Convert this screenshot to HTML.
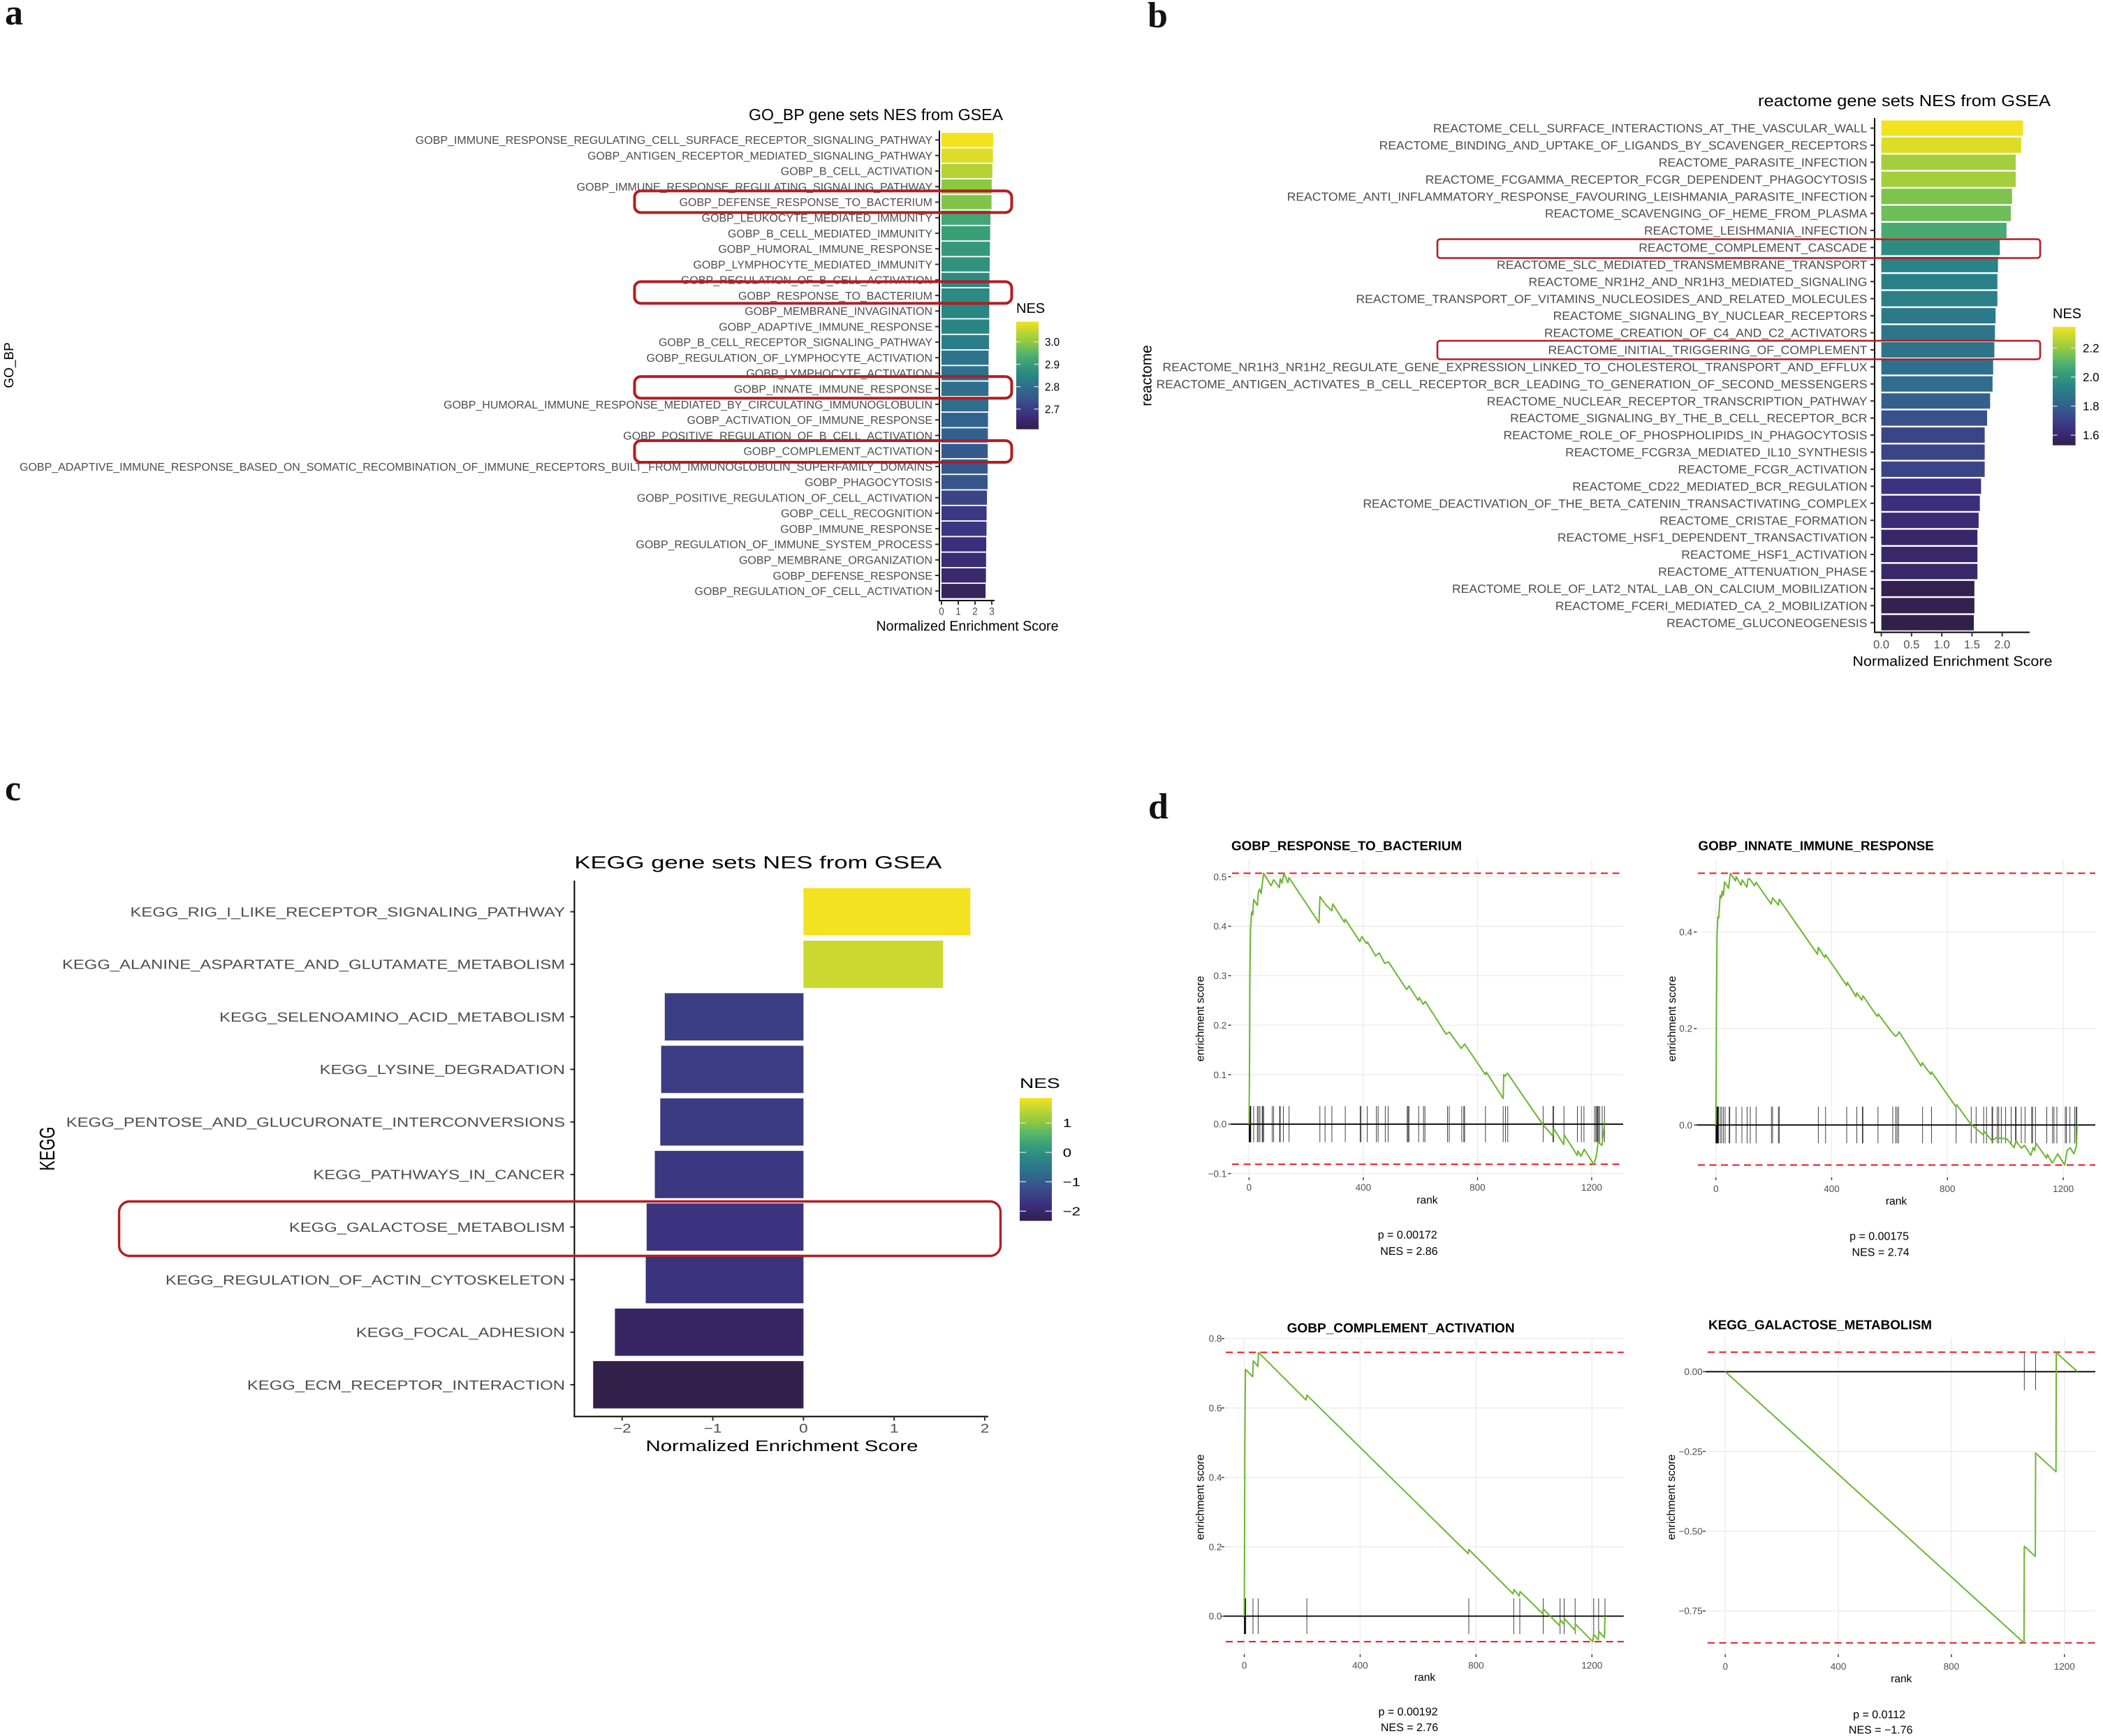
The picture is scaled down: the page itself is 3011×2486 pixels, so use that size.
<!DOCTYPE html>
<html lang="en">
<head>
<meta charset="utf-8">
<title>GSEA NES figure</title>
<style>
html,body{margin:0;padding:0;background:#fff;}
svg{display:block;}
text{font-family:"Liberation Sans",sans-serif;text-rendering:geometricPrecision;}
.letter{font-family:"Liberation Serif",serif;font-weight:bold;font-size:52px;fill:#111;}
.box{fill:none;stroke:#b11e22;}
</style>
</head>
<body>
<svg id="figure" xmlns="http://www.w3.org/2000/svg" width="3011" height="2486" viewBox="0 0 3011 2486">
  <defs id="defs"></defs>
  <rect x="0" y="0" width="3011" height="2486" fill="#fff"/>
  <g id="panel-a"></g>
  <g id="panel-b"></g>
  <g id="panel-c"></g>
  <g id="panel-d1"></g>
  <g id="panel-d2"></g>
  <g id="panel-d3"></g>
  <g id="panel-d4"></g>
  <g>
    <rect class="box" x="908.5" y="273.4" width="540" height="31" rx="9" stroke-width="4"/>
    <rect class="box" x="908.5" y="403.4" width="540" height="31" rx="9" stroke-width="4"/>
    <rect class="box" x="908.5" y="539.2" width="540" height="31" rx="9" stroke-width="4"/>
    <rect class="box" x="908.5" y="631" width="540" height="31" rx="9" stroke-width="4"/>
    <rect class="box" x="2058" y="342.5" width="863" height="27" rx="4" stroke-width="2.6"/>
    <rect class="box" x="2058" y="488" width="863" height="26.5" rx="4" stroke-width="2.6"/>
    <rect class="box" x="170.5" y="1720.5" width="1262" height="78" rx="15" stroke-width="3.4"/>
  </g>
  <text class="letter" x="7" y="35">a</text>
  <text class="letter" x="1643" y="39">b</text>
  <text class="letter" x="7" y="1146">c</text>
  <text class="letter" x="1644" y="1172">d</text>
</svg>
<script>
/* ---------- Panel a data ---------- */
const aCategories = [
"GOBP_IMMUNE_RESPONSE_REGULATING_CELL_SURFACE_RECEPTOR_SIGNALING_PATHWAY",
"GOBP_ANTIGEN_RECEPTOR_MEDIATED_SIGNALING_PATHWAY",
"GOBP_B_CELL_ACTIVATION",
"GOBP_IMMUNE_RESPONSE_REGULATING_SIGNALING_PATHWAY",
"GOBP_DEFENSE_RESPONSE_TO_BACTERIUM",
"GOBP_LEUKOCYTE_MEDIATED_IMMUNITY",
"GOBP_B_CELL_MEDIATED_IMMUNITY",
"GOBP_HUMORAL_IMMUNE_RESPONSE",
"GOBP_LYMPHOCYTE_MEDIATED_IMMUNITY",
"GOBP_REGULATION_OF_B_CELL_ACTIVATION",
"GOBP_RESPONSE_TO_BACTERIUM",
"GOBP_MEMBRANE_INVAGINATION",
"GOBP_ADAPTIVE_IMMUNE_RESPONSE",
"GOBP_B_CELL_RECEPTOR_SIGNALING_PATHWAY",
"GOBP_REGULATION_OF_LYMPHOCYTE_ACTIVATION",
"GOBP_LYMPHOCYTE_ACTIVATION",
"GOBP_INNATE_IMMUNE_RESPONSE",
"GOBP_HUMORAL_IMMUNE_RESPONSE_MEDIATED_BY_CIRCULATING_IMMUNOGLOBULIN",
"GOBP_ACTIVATION_OF_IMMUNE_RESPONSE",
"GOBP_POSITIVE_REGULATION_OF_B_CELL_ACTIVATION",
"GOBP_COMPLEMENT_ACTIVATION",
"GOBP_ADAPTIVE_IMMUNE_RESPONSE_BASED_ON_SOMATIC_RECOMBINATION_OF_IMMUNE_RECEPTORS_BUILT_FROM_IMMUNOGLOBULIN_SUPERFAMILY_DOMAINS",
"GOBP_PHAGOCYTOSIS",
"GOBP_POSITIVE_REGULATION_OF_CELL_ACTIVATION",
"GOBP_CELL_RECOGNITION",
"GOBP_IMMUNE_RESPONSE",
"GOBP_REGULATION_OF_IMMUNE_SYSTEM_PROCESS",
"GOBP_MEMBRANE_ORGANIZATION",
"GOBP_DEFENSE_RESPONSE",
"GOBP_REGULATION_OF_CELL_ACTIVATION"];
const aValues = [3.09,3.07,3.035,2.995,2.985,2.92,2.905,2.89,2.875,2.86,2.86,2.85,2.85,2.835,2.81,2.805,2.80,2.795,2.775,2.77,2.76,2.755,2.75,2.715,2.69,2.685,2.67,2.66,2.65,2.63];
const aXTicks = [0,1,2,3];
const aXTickLabels = ["0","1","2","3"];
const aLegendTicks = [3.0,2.9,2.8,2.7];
const aLegendLabels = ["3.0","2.9","2.8","2.7"];

/* ---------- Panel b data ---------- */
const bCategories = [
"REACTOME_CELL_SURFACE_INTERACTIONS_AT_THE_VASCULAR_WALL",
"REACTOME_BINDING_AND_UPTAKE_OF_LIGANDS_BY_SCAVENGER_RECEPTORS",
"REACTOME_PARASITE_INFECTION",
"REACTOME_FCGAMMA_RECEPTOR_FCGR_DEPENDENT_PHAGOCYTOSIS",
"REACTOME_ANTI_INFLAMMATORY_RESPONSE_FAVOURING_LEISHMANIA_PARASITE_INFECTION",
"REACTOME_SCAVENGING_OF_HEME_FROM_PLASMA",
"REACTOME_LEISHMANIA_INFECTION",
"REACTOME_COMPLEMENT_CASCADE",
"REACTOME_SLC_MEDIATED_TRANSMEMBRANE_TRANSPORT",
"REACTOME_NR1H2_AND_NR1H3_MEDIATED_SIGNALING",
"REACTOME_TRANSPORT_OF_VITAMINS_NUCLEOSIDES_AND_RELATED_MOLECULES",
"REACTOME_SIGNALING_BY_NUCLEAR_RECEPTORS",
"REACTOME_CREATION_OF_C4_AND_C2_ACTIVATORS",
"REACTOME_INITIAL_TRIGGERING_OF_COMPLEMENT",
"REACTOME_NR1H3_NR1H2_REGULATE_GENE_EXPRESSION_LINKED_TO_CHOLESTEROL_TRANSPORT_AND_EFFLUX",
"REACTOME_ANTIGEN_ACTIVATES_B_CELL_RECEPTOR_BCR_LEADING_TO_GENERATION_OF_SECOND_MESSENGERS",
"REACTOME_NUCLEAR_RECEPTOR_TRANSCRIPTION_PATHWAY",
"REACTOME_SIGNALING_BY_THE_B_CELL_RECEPTOR_BCR",
"REACTOME_ROLE_OF_PHOSPHOLIPIDS_IN_PHAGOCYTOSIS",
"REACTOME_FCGR3A_MEDIATED_IL10_SYNTHESIS",
"REACTOME_FCGR_ACTIVATION",
"REACTOME_CD22_MEDIATED_BCR_REGULATION",
"REACTOME_DEACTIVATION_OF_THE_BETA_CATENIN_TRANSACTIVATING_COMPLEX",
"REACTOME_CRISTAE_FORMATION",
"REACTOME_HSF1_DEPENDENT_TRANSACTIVATION",
"REACTOME_HSF1_ACTIVATION",
"REACTOME_ATTENUATION_PHASE",
"REACTOME_ROLE_OF_LAT2_NTAL_LAB_ON_CALCIUM_MOBILIZATION",
"REACTOME_FCERI_MEDIATED_CA_2_MOBILIZATION",
"REACTOME_GLUCONEOGENESIS"];
const bValues = [2.344,2.314,2.223,2.223,2.162,2.142,2.071,1.96,1.93,1.92,1.92,1.89,1.88,1.87,1.85,1.84,1.80,1.75,1.71,1.71,1.71,1.65,1.63,1.61,1.59,1.59,1.59,1.54,1.54,1.53];
const bXTicks = [0,0.5,1,1.5,2];
const bXTickLabels = ["0.0","0.5","1.0","1.5","2.0"];
const bLegendTicks = [2.2,2.0,1.8,1.6];
const bLegendLabels = ["2.2","2.0","1.8","1.6"];

/* ---------- Panel c data ---------- */
const cCategories = [
"KEGG_RIG_I_LIKE_RECEPTOR_SIGNALING_PATHWAY",
"KEGG_ALANINE_ASPARTATE_AND_GLUTAMATE_METABOLISM",
"KEGG_SELENOAMINO_ACID_METABOLISM",
"KEGG_LYSINE_DEGRADATION",
"KEGG_PENTOSE_AND_GLUCURONATE_INTERCONVERSIONS",
"KEGG_PATHWAYS_IN_CANCER",
"KEGG_GALACTOSE_METABOLISM",
"KEGG_REGULATION_OF_ACTIN_CYTOSKELETON",
"KEGG_FOCAL_ADHESION",
"KEGG_ECM_RECEPTOR_INTERACTION"];
const cValues = [1.84,1.54,-1.53,-1.57,-1.58,-1.64,-1.73,-1.74,-2.08,-2.32];
const cXTicks = [-2,-1,0,1,2];
const cXTickLabels = ["\u22122","\u22121","0","1","2"];
const cLegendTicks = [1,0,-1,-2];
const cLegendLabels = ["1","0","\u22121","\u22122"];

/* ---------- Panel d data ---------- */
const d1Ranks = [0,2,3,5,9,13,16,29,32,37,42,51,77,86,106,109,115,122,136,140,245,248,268,290,293,334,337,388,395,411,415,443,456,475,488,552,560,592,596,610,617,690,702,743,755,828,831,890,892,897,905,1029,1064,1067,1102,1104,1149,1152,1162,1174,1207,1216,1223,1236,1245];
const d1Scores = [0,0.157,0.30,0.393,0.429,0.423,0.454,0.442,0.468,0.475,0.466,0.507,0.482,0.494,0.478,0.496,0.487,0.507,0.488,0.498,0.407,0.46,0.444,0.431,0.445,0.408,0.414,0.369,0.379,0.365,0.368,0.340,0.346,0.325,0.328,0.272,0.279,0.25,0.256,0.242,0.248,0.182,0.186,0.153,0.162,0.1,0.105,0.052,0.1,0.097,0.103,-0.001,-0.024,-0.009,-0.041,-0.022,-0.063,-0.054,-0.065,-0.051,-0.081,-0.066,-0.036,-0.043,0];
const d1Hits = [0,1,2,3,4,5,6,16,29,33,38,46,48,51,81,86,107,109,120,140,248,266,290,337,389,392,414,446,452,477,487,554,557,560,594,611,616,695,701,745,752,755,828,890,898,906,1030,1064,1067,1103,1150,1164,1173,1210,1215,1218,1221,1224,1228,1237,1245];
const d1YTicks = [0.5,0.4,0.3,0.2,0.1,0,-0.1];
const d1YLabels = ["0.5","0.4","0.3","0.2","0.1","0.0","\u22120.1"];
const d1Bounds = [0.507,-0.081];

const d2Ranks = [0,1,2,4,7,10,12,15,19,22,26,30,44,50,68,70,87,91,107,111,117,134,139,191,196,216,219,351,354,376,379,452,454,484,487,504,508,557,561,610,620,626,633,709,713,742,745,829,832,880,923,928,954,969,1005,1030,1037,1055,1066,1088,1096,1101,1106,1142,1145,1162,1181,1205,1213,1224,1237,1245,1248];
const d2Scores = [0,0.092,0.228,0.393,0.432,0.429,0.45,0.476,0.471,0.485,0.476,0.504,0.491,0.522,0.506,0.515,0.497,0.508,0.493,0.51,0.51,0.496,0.503,0.458,0.471,0.456,0.468,0.354,0.368,0.347,0.353,0.289,0.296,0.266,0.274,0.259,0.268,0.225,0.23,0.191,0.184,0.186,0.193,0.122,0.129,0.105,0.11,0.038,0.042,0.002,-0.02,-0.014,-0.033,-0.026,-0.029,-0.047,-0.033,-0.048,-0.042,-0.063,-0.047,-0.053,-0.038,-0.069,-0.061,-0.079,-0.06,-0.083,-0.053,-0.047,-0.06,-0.044,0];
const d2Hits = [0,1,2,3,4,5,6,7,8,9,15,20,26,32,46,48,70,90,108,119,139,192,196,216,219,354,379,452,487,506,508,560,611,621,626,631,714,745,830,882,899,925,935,954,956,972,977,986,1001,1020,1035,1037,1055,1068,1091,1094,1104,1143,1163,1168,1178,1207,1211,1223,1239,1244,1247];
const d2YTicks = [0.4,0.2,0];
const d2YLabels = ["0.4","0.2","0.0"];
const d2Bounds = [0.522,-0.083];

const d3Ranks = [0,1,2,4,29,31,47,49,213,216,773,775,928,931,949,952,1030,1032,1088,1091,1103,1105,1141,1143,1203,1206,1222,1224,1243,1245];
const d3Scores = [0,0.183,0.499,0.711,0.69,0.736,0.72,0.76,0.623,0.637,0.18,0.192,0.064,0.077,0.058,0.071,0.007,0.021,-0.027,-0.011,-0.023,-0.007,-0.04,-0.023,-0.0735,-0.053,-0.068,-0.044,-0.062,0];
const d3Hits = [0,1,2,3,4,5,30,48,216,775,930,951,1032,1090,1104,1142,1206,1223,1245];
const d3YTicks = [0.8,0.6,0.4,0.2,0];
const d3YLabels = ["0.8","0.6","0.4","0.2","0.0"];
const d3Bounds = [0.76,-0.0735];

const d4Ranks = [0,1057,1058,1097,1098,1170,1171,1246];
const d4Scores = [0,-0.85,-0.547,-0.579,-0.255,-0.314,0.06,0];
const d4Hits = [1058,1098,1171];
const d4YTicks = [0,-0.25,-0.5,-0.75];
const d4YLabels = ["0.00","\u22120.25","\u22120.50","\u22120.75"];
const d4Bounds = [0.0611,-0.85];

const dXTicks = [0,400,800,1200];
const dXTickLabels = ["0","400","800","1200"];

/* ---------- helpers ---------- */
const SVGNS = "http://www.w3.org/2000/svg";
const CMAP = [[0,"#33204a"],[0.12,"#3b2d7c"],[0.25,"#3a4c8a"],[0.38,"#2f6c8e"],[0.5,"#2a8585"],[0.62,"#3aa078"],[0.72,"#5cb868"],[0.8,"#8cc840"],[0.9,"#bcd535"],[1,"#f3e21f"]];
function hexToRgb(h){return [1,3,5].map(function(i){return parseInt(h.substr(i,2),16);});}
function cmap(t){
  t=Math.max(0,Math.min(1,t));
  for(let i=1;i<CMAP.length;i++){
    if(t<=CMAP[i][0]){
      const a=CMAP[i-1],b=CMAP[i],f=(t-a[0])/(b[0]-a[0]);
      const ca=hexToRgb(a[1]),cb=hexToRgb(b[1]);
      return "rgb("+ca.map(function(v,k){return Math.round(v+(cb[k]-v)*f);}).join(",")+")";
    }
  }
  return CMAP[CMAP.length-1][1];
}
function make(parent,tag,attrs){
  const el=document.createElementNS(SVGNS,tag);
  for(const k in attrs){el.setAttribute(k,attrs[k]);}
  parent.appendChild(el);
  return el;
}
/* y is the vertical centre of the capitals; o: anchor, fill, weight, sx, w (target width), rot */
function addText(parent,str,x,y,size,o){
  o=o||{};
  const el=make(parent,"text",{"font-size":size,"fill":o.fill||"#000","text-anchor":o.anchor||"start","dy":(size*0.358).toFixed(2)});
  if(o.weight){el.setAttribute("font-weight",o.weight);}
  el.textContent=str;
  let sx=o.sx||1;
  if(o.w){sx=o.w/el.getComputedTextLength();}
  el.setAttribute("transform","translate("+x+","+y+") scale("+sx.toFixed(4)+",1)"+(o.rot?" rotate(-90)":""));
  return el;
}
function measure(parent,str,size){
  const el=make(parent,"text",{"font-size":size});
  el.textContent=str;
  const len=el.getComputedTextLength();
  parent.removeChild(el);
  return len;
}

/* ---------- bar panels ---------- */
function drawBarPanel(p){
  const g=document.getElementById(p.id);
  const xScale=function(v){return p.x0+v*p.xUnit;};
  const yScale=function(i){return p.rowFirst+i*(p.rowLast-p.rowFirst)/(p.cats.length-1);};
  const colorT=function(v){return (v-p.lo)/(p.hi-p.lo);};

  p.vals.forEach(function(v,i){
    const x1=xScale(0),x2=xScale(v);
    const bar=make(g,"rect",{x:Math.min(x1,x2),y:yScale(i)-p.barH/2,width:Math.abs(x2-x1),height:p.barH,fill:cmap(colorT(v))});
    
    
  });

  const longest=p.cats.reduce(function(a,b){return b.length>a.length?b:a;},"");
  const labelSx=p.labelSx||p.labelW/measure(g,longest,p.labelSize);
  p.cats.forEach(function(c,i){
    const t=addText(g,c,p.labelEnd,yScale(i),p.labelSize,{anchor:"end",fill:"#4d4d4d",sx:labelSx});
    
    
    const tick=make(g,"line",{x1:p.axisX-6,x2:p.axisX,y1:yScale(i),y2:yScale(i),stroke:"#333","stroke-width":2});
    
    
  });

  const yAxis=make(g,"line",{x1:p.axisX,x2:p.axisX,y1:p.axisTop,y2:p.axisBottom+1,stroke:"#000","stroke-width":2});
  
  
  const xAxis=make(g,"line",{x1:p.axisX-1,x2:p.axisEnd,y1:p.axisBottom,y2:p.axisBottom,stroke:"#000","stroke-width":2});
  
  

  p.xTicks.forEach(function(v,i){
    const tick=make(g,"line",{x1:xScale(v),x2:xScale(v),y1:p.axisBottom,y2:p.axisBottom+6,stroke:"#333","stroke-width":2});
    
    
    const t=addText(g,p.xLabels[i],xScale(v),p.tickLabelY,p.tickSize,{anchor:"middle",fill:"#4d4d4d",sx:p.tickSx});
    
    
  });

  const title=addText(g,p.title,p.titleX,p.titleY,p.titleSize,{w:p.titleW});
  
  
  const xTitle=addText(g,"Normalized Enrichment Score",p.xTitleX,p.xTitleY,p.xTitleSize,{anchor:"middle",w:p.xTitleW});
  
  
  const yTitle=addText(g,p.yTitle,p.yTitleX,p.yTitleY,p.yTitleSize,{anchor:"middle",rot:true,sx:p.yTitleSx});
  
  

  /* colour legend */
  const defs=document.getElementById("defs");
  const grad=make(defs,"linearGradient",{id:"grad-"+p.key,x1:0,y1:1,x2:0,y2:0});
  CMAP.forEach(function(s){make(grad,"stop",{offset:s[0],"stop-color":s[1]});});
  const legY=function(v){return p.legBottom-(v-p.lo)/(p.hi-p.lo)*(p.legBottom-p.legTop);};
  const legBar=make(g,"rect",{x:p.legX,y:p.legTop,width:p.legW,height:p.legBottom-p.legTop,fill:"url(#grad-"+p.key+")"});
  
  
  const legTitle=addText(g,"NES",p.legX,p.legTitleY,p.legTitleSize,{sx:p.legTitleSx});
  
  
  p.legTicks.forEach(function(v,i){
    const tl=p.legW/5;
    const a=make(g,"line",{x1:p.legX,x2:p.legX+tl,y1:legY(v),y2:legY(v),stroke:"#e4e4e4","stroke-width":1.2});
    
    
    const b=make(g,"line",{x1:p.legX+p.legW-tl,x2:p.legX+p.legW,y1:legY(v),y2:legY(v),stroke:"#e4e4e4","stroke-width":1.2});
    
    
    const t=addText(g,p.legLabels[i],p.legLabelX,legY(v),p.legLabelSize,{sx:p.legLabelSx});
    
    
  });
}

/* ---------- GSEA running-score panels ---------- */
function drawGsea(p){
  const g=document.getElementById(p.id);
  const xScale=function(r){return p.x0+r*p.xUnit;};
  const yScale=function(s){return p.y0-s*p.yUnit;};

  p.yTicks.forEach(function(v,i){
    const grid=make(g,"line",{x1:p.left,x2:p.right,y1:yScale(v),y2:yScale(v),stroke:"#ececec","stroke-width":1.4});
    
    
    const tick=make(g,"line",{x1:p.left-4,x2:p.left,y1:yScale(v),y2:yScale(v),stroke:"#333","stroke-width":1.4});
    
    
    const t=addText(g,p.yLabels[i],p.yLabelEnd,yScale(v),13.5,{anchor:"end",fill:"#4d4d4d"});
    
    
  });
  dXTicks.forEach(function(v,i){
    const grid=make(g,"line",{x1:xScale(v),x2:xScale(v),y1:p.top,y2:p.bottom,stroke:"#ececec","stroke-width":1.4});
    
    
    const tick=make(g,"line",{x1:xScale(v),x2:xScale(v),y1:p.bottom,y2:p.bottom+4,stroke:"#333","stroke-width":1.4});
    
    
    const t=addText(g,dXTickLabels[i],xScale(v),p.xLabelY,13.5,{anchor:"middle",fill:"#4d4d4d"});
    
    
  });

  const zero=make(g,"line",{x1:p.left,x2:p.right,y1:yScale(0),y2:yScale(0),stroke:"#000","stroke-width":1.8});
  
  

  p.hits.forEach(function(r){
    const hit=make(g,"line",{x1:xScale(r),x2:xScale(r),y1:yScale(p.rug),y2:yScale(-p.rug),stroke:"#000","stroke-width":1,"stroke-opacity":0.75});
    
    
  });

  p.bounds.forEach(function(b){
    const dash=make(g,"line",{x1:p.dashLeft,x2:p.right,y1:yScale(b),y2:yScale(b),stroke:"#e0181e","stroke-width":2,"stroke-dasharray":"10 6.5"});
    
    
  });

  const d=p.ranks.map(function(r,i){return (i?"L":"M")+xScale(r).toFixed(1)+" "+yScale(p.scores[i]).toFixed(1);}).join("");
  const line=make(g,"path",{d:d,fill:"none",stroke:"#6db52f","stroke-width":2,"stroke-linejoin":"round"});
  
  

  const title=addText(g,p.title,p.titleX,p.titleY,18.8,{weight:"bold",w:p.titleW});
  
  
  const xTitle=addText(g,"rank",p.rankX,p.rankY,15.6,{anchor:"middle"});
  
  
  const yTitle=addText(g,"enrichment score",p.yTitleX,p.yTitleY,16,{anchor:"middle",rot:true});
  
  
  const pVal=addText(g,p.pText,p.pX,p.pY,16,{anchor:"middle"});
  
  
  const nes=addText(g,p.nesText,p.nesX,p.nesY,16,{anchor:"middle"});
  
  
}

drawBarPanel({id:"panel-a",key:"a",cats:aCategories,vals:aValues,xTicks:aXTicks,xLabels:aXTickLabels,legTicks:aLegendTicks,legLabels:aLegendLabels,
  x0:1348,xUnit:24,rowFirst:200.4,rowLast:846.3,barH:20.4,lo:2.61,hi:3.09,
  labelEnd:1335,labelSize:16,labelW:1307,axisX:1345,axisTop:187,axisBottom:860,axisEnd:1424,
  tickLabelY:875,tickSize:15,tickSx:0.9,
  title:"GO_BP gene sets NES from GSEA",titleX:1072,titleY:164,titleSize:23,titleW:364,
  xTitleX:1385,xTitleY:896,xTitleSize:20,xTitleW:261,
  yTitle:"GO_BP",yTitleX:12,yTitleY:523,yTitleSize:19,
  legX:1455,legW:32,legTop:460.6,legBottom:614.7,legTitleY:441,legTitleSize:20,legLabelX:1496,legLabelSize:16,legLabelSx:0.95});

drawBarPanel({id:"panel-b",key:"b",cats:bCategories,vals:bValues,xTicks:bXTicks,xLabels:bXTickLabels,legTicks:bLegendTicks,legLabels:bLegendLabels,
  x0:2693.6,xUnit:86.55,rowFirst:183.5,rowLast:891.7,barH:22,lo:1.53,hi:2.346,
  labelEnd:2673.5,labelSize:17,labelW:1018,axisX:2684,axisTop:169,axisBottom:905.5,axisEnd:2906,
  tickLabelY:922.4,tickSize:16.5,
  title:"reactome gene sets NES from GSEA",titleX:2517,titleY:144,titleSize:23,titleW:419,
  xTitleX:2795.5,xTitleY:946.5,xTitleSize:20,xTitleW:286,
  yTitle:"reactome",yTitleX:1641,yTitleY:538,yTitleSize:21,
  legX:2939,legW:32.6,legTop:468,legBottom:637.7,legTitleY:448.5,legTitleSize:20,legLabelX:2982,legLabelSize:17,legLabelSx:1});

drawBarPanel({id:"panel-c",key:"c",cats:cCategories,vals:cValues,xTicks:cXTicks,xLabels:cXTickLabels,legTicks:cLegendTicks,legLabels:cLegendLabels,
  x0:1150.4,xUnit:129.8,rowFirst:1305.6,rowLast:1983,barH:67.7,lo:-2.33,hi:1.85,
  labelEnd:809,labelSize:19,labelW:720,axisX:822.4,axisTop:1261,axisBottom:2028.5,axisEnd:1415,
  tickLabelY:2045,tickSize:18,tickSx:1.25,
  title:"KEGG gene sets NES from GSEA",titleX:822.4,titleY:1234.4,titleSize:25,titleW:526,
  xTitleX:1119.5,xTitleY:2070,xTitleSize:22,xTitleW:390,
  yTitle:"KEGG",yTitleX:67.3,yTitleY:1645,yTitleSize:21.8,yTitleSx:1.4,
  legX:1460,legW:46,legTop:1572.3,legBottom:1748.3,legTitleY:1551,legTitleSize:20,legTitleSx:1.4,legLabelX:1521.7,legLabelSize:17,legLabelSx:1.3});

drawGsea({id:"panel-d1",ranks:d1Ranks,scores:d1Scores,hits:d1Hits,yTicks:d1YTicks,yLabels:d1YLabels,bounds:d1Bounds,rug:0.0365,
  x0:1788.4,xUnit:0.40875,y0:1609.8,yUnit:708.6,left:1762.4,right:2324,top:1230.2,bottom:1686,dashLeft:1764,
  yLabelEnd:1756.3,xLabelY:1700.4,title:"GOBP_RESPONSE_TO_BACTERIUM",titleX:1763,titleY:1210.6,titleW:330,
  rankX:2043.4,rankY:1718,yTitleX:1718,yTitleY:1458.8,pText:"p = 0.00172",pX:2015.2,pY:1768,nesText:"NES = 2.86",nesX:2017.4,nesY:1791.4});

drawGsea({id:"panel-d2",ranks:d2Ranks,scores:d2Scores,hits:d2Hits,yTicks:d2YTicks,yLabels:d2YLabels,bounds:d2Bounds,rug:0.038,
  x0:2456.7,xUnit:0.4145,y0:1611,yUnit:690.7,left:2429.3,right:3000,top:1230.2,bottom:1686,dashLeft:2431,
  yLabelEnd:2423,xLabelY:1702,title:"GOBP_INNATE_IMMUNE_RESPONSE",titleX:2431.4,titleY:1210.6,titleW:337.5,
  rankX:2715,rankY:1719.6,yTitleX:2393.4,yTitleY:1458.8,pText:"p = 0.00175",pX:2690.6,pY:1769.8,nesText:"NES = 2.74",nesX:2692.7,nesY:1793});

drawGsea({id:"panel-d3",ranks:d3Ranks,scores:d3Scores,hits:d3Hits,yTicks:d3YTicks,yLabels:d3YLabels,bounds:d3Bounds,rug:0.0515,
  x0:1781.5,xUnit:0.41483,y0:2314.4,yUnit:497,left:1752.9,right:2324.8,top:1916.8,bottom:2369,dashLeft:1755,
  yLabelEnd:1749.4,xLabelY:2384.7,title:"GOBP_COMPLEMENT_ACTIVATION",titleX:1842.6,titleY:1901.4,titleW:326,
  rankX:2040,rankY:2401.2,yTitleX:1718,yTitleY:2143.9,pText:"p = 0.00192",pX:2016,pY:2450.7,nesText:"NES = 2.76",nesX:2018,nesY:2473.5});

drawGsea({id:"panel-d4",ranks:d4Ranks,scores:d4Scores,hits:d4Hits,yTicks:d4YTicks,yLabels:d4YLabels,bounds:d4Bounds,rug:0.058,
  x0:2470.2,xUnit:0.40467,y0:1964.3,yUnit:456.8,left:2441.9,right:3000,top:1916.4,bottom:2369,dashLeft:2445,
  yLabelEnd:2437.7,xLabelY:2386.3,title:"KEGG_GALACTOSE_METABOLISM",titleX:2446,titleY:1896.7,titleW:320,
  rankX:2722.3,rankY:2403.6,yTitleX:2392.2,yTitleY:2143.9,pText:"p = 0.0112",pX:2690.6,pY:2454.7,nesText:"NES = \u22121.76",nesX:2692.7,nesY:2477});
</script>
</body>
</html>
